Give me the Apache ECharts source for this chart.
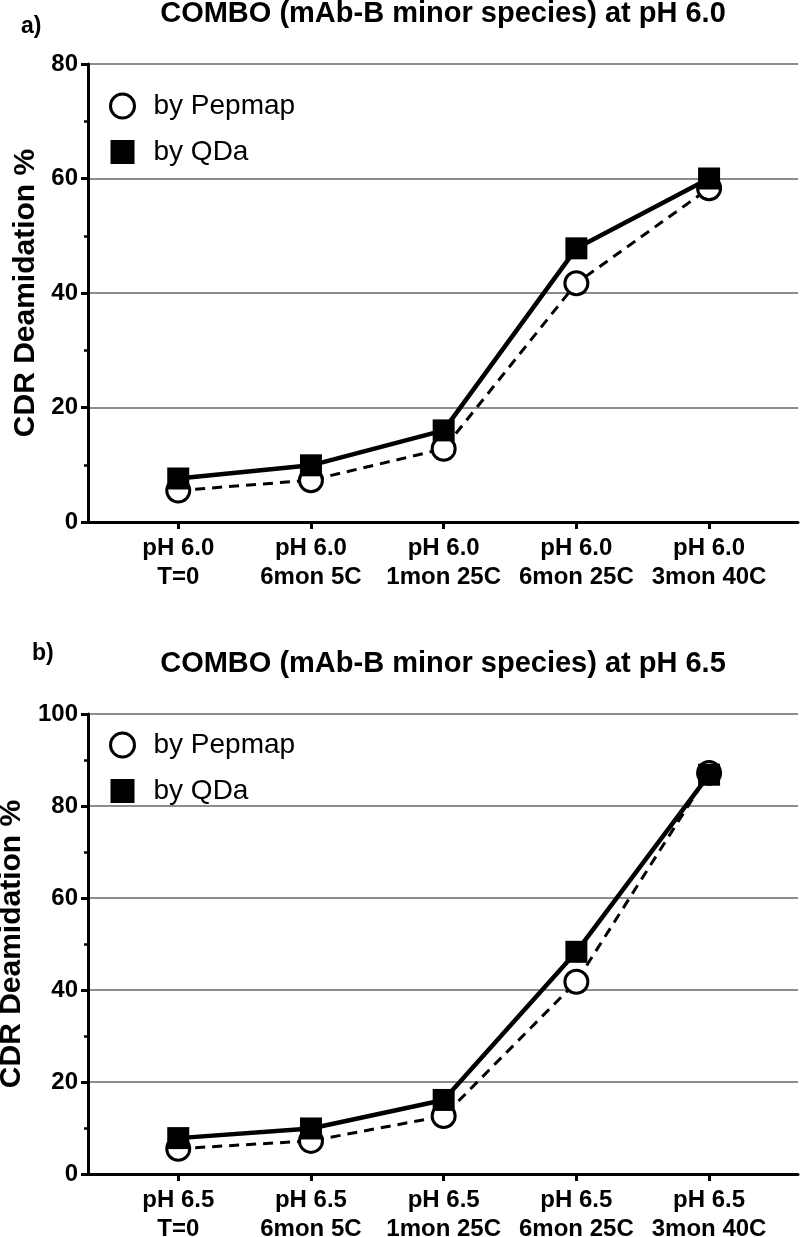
<!DOCTYPE html>
<html><head><meta charset="utf-8">
<script src="https://cdn.jsdelivr.net/npm/echarts@6/dist/echarts.min.js"></script>
<style>html,body{margin:0;padding:0;background:#fff}#c{width:800px;height:1237px}</style>
</head><body><div id="c"></div>
<script>
const categoriesA = ['pH 6.0\nT=0', 'pH 6.0\n6mon 5C', 'pH 6.0\n1mon 25C', 'pH 6.0\n6mon 25C', 'pH 6.0\n3mon 40C'];
const categoriesB = ['pH 6.5\nT=0', 'pH 6.5\n6mon 5C', 'pH 6.5\n1mon 25C', 'pH 6.5\n6mon 25C', 'pH 6.5\n3mon 40C'];
const pepmapA = [5.5, 7.3, 12.8, 41.7, 58.3];
const qdaA = [7.6, 9.9, 16.0, 47.8, 60.0];
const pepmapB = [5.5, 7.2, 12.6, 41.8, 87.2];
const qdaB = [7.8, 9.9, 16.1, 48.3, 86.8];
const yMaxA = 80;
const yMaxB = 100;
const yStep = 20;
const titleA = 'COMBO (mAb-B minor species) at pH 6.0';
const titleB = 'COMBO (mAb-B minor species) at pH 6.5';
const seriesNames = ['by Pepmap', 'by QDa'];
const yName = 'CDR Deamidation %';

const FONT = '"Liberation Sans", Arial, Helvetica, sans-serif';
const catIdx = categoriesA.map((_, i) => i);

function xAxis(gi, cats) {
  return {
    type: 'value', gridIndex: gi, min: -0.68, max: 4.67,
    axisLine: {show: true, onZero: false, lineStyle: {color: '#000', width: 3}},
    axisTick: {show: true, customValues: catIdx, length: 7, lineStyle: {color: '#000', width: 3}},
    axisLabel: {customValues: catIdx, formatter: v => cats[Math.round(v)], fontFamily: FONT, fontWeight: 'bold',
      fontSize: 24, color: '#000', lineHeight: 29, margin: 12},
    splitLine: {show: false}
  };
}
function yAxis(gi, max) {
  return {
    type: 'value', gridIndex: gi, min: 0, max: max, interval: yStep,
    axisLine: {show: true, onZero: false, lineStyle: {color: '#000', width: 3}},
    axisTick: {show: true, length: 7, lineStyle: {color: '#000', width: 3}},
    minorTick: {show: true, splitNumber: 2, length: 4, lineStyle: {color: '#000', width: 2.5}},
    splitLine: {show: true, lineStyle: {color: '#8c8c8c', width: 2}},
    axisLabel: {fontFamily: FONT, fontWeight: 'bold', fontSize: 24, color: '#000', margin: 10},
    name: yName, nameLocation: 'middle', nameGap: 47,
    nameTextStyle: {fontFamily: FONT, fontWeight: 'bold', fontSize: 30, color: '#000'}
  };
}
function pts(arr) { return arr.map((v, i) => [i, v]); }
function pepSeries(gi, arr) {
  return {
    name: seriesNames[0], type: 'line', xAxisIndex: gi, yAxisIndex: gi, data: pts(arr),
    symbol: 'circle', symbolSize: 23,
    itemStyle: {color: '#fff', borderColor: '#000', borderWidth: 3},
    lineStyle: {color: '#000', width: 3, type: [10, 7]}, z: 2
  };
}
function qdaSeries(gi, arr) {
  return {
    name: seriesNames[1], type: 'line', xAxisIndex: gi, yAxisIndex: gi, data: pts(arr),
    symbol: 'rect', symbolSize: 22,
    itemStyle: {color: '#000', borderColor: '#000', borderWidth: 0},
    lineStyle: {color: '#000', width: 4.5}, z: 3
  };
}
function legend(top) {
  return {
    orient: 'vertical', left: 109, top: top, itemWidth: 24, itemHeight: 24, itemGap: 18,
    selectedMode: false, padding: 0,
    textStyle: {fontFamily: FONT, fontSize: 28, color: '#000', padding: [0, 0, 0, 14]},
    data: [
      {name: seriesNames[0], icon: 'circle', itemStyle: {color: '#fff', borderColor: '#000', borderWidth: 3}},
      {name: seriesNames[1], icon: 'rect', itemStyle: {color: '#000', borderWidth: 0}}
    ]
  };
}
const tStyle = (s) => ({fontFamily: FONT, fontWeight: 'bold', fontSize: s, color: '#000'});

const chart = echarts.init(document.getElementById('c'));
chart.setOption({
  animation: false,
  backgroundColor: '#fff',
  title: [
    {text: titleA, left: 443, top: -1, textAlign: 'center', padding: 0, textStyle: tStyle(29)},
    {text: 'a)', left: 21, top: 15, padding: 0, textStyle: tStyle(23)},
    {text: titleB, left: 443, top: 649, textAlign: 'center', padding: 0, textStyle: tStyle(29)},
    {text: 'b)', left: 32, top: 642, padding: 0, textStyle: tStyle(23)}
  ],
  legend: [legend(92), legend(731)],
  grid: [
    {left: 88, right: 2, top: 64, height: 458, outerBoundsMode: 'none', containLabel: false},
    {left: 88, right: 2, top: 714, height: 460, outerBoundsMode: 'none', containLabel: false}
  ],
  xAxis: [xAxis(0, categoriesA), xAxis(1, categoriesB)],
  yAxis: [yAxis(0, yMaxA), yAxis(1, yMaxB)],
  series: [pepSeries(0, pepmapA), qdaSeries(0, qdaA), pepSeries(1, pepmapB), qdaSeries(1, qdaB)]
});
</script></body></html>
